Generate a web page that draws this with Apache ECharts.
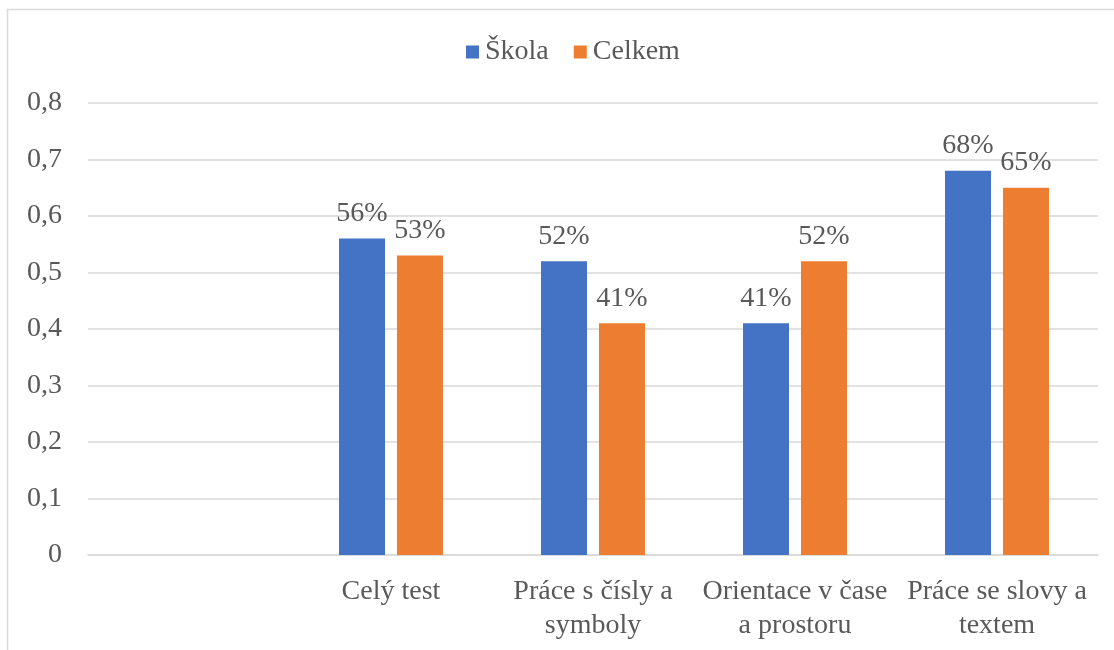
<!DOCTYPE html>
<html>
<head>
<meta charset="utf-8">
<script src="https://cdn.jsdelivr.net/npm/echarts@6/dist/echarts.min.js"></script>
<style>
  html, body { margin: 0; padding: 0; background: #fff; }
  #chart { width: 1114px; height: 650px; }
</style>
</head>
<body>
<div id="chart"></div>
<script>
const categories = ['', 'Celý test', 'Práce s čísly a\nsymboly', 'Orientace v čase\na prostoru', 'Práce se slovy a\ntextem'];
const skola = [null, 0.56, 0.52, 0.41, 0.68];
const celkem = [null, 0.53, 0.41, 0.52, 0.65];
const seriesNames = ['Škola', 'Celkem'];

const chart = echarts.init(document.getElementById('chart'));
const font = '"Liberation Serif", "Times New Roman", serif';
const textColor = '#595959';

const pctLabel = {
  show: true,
  position: 'top',
  distance: 11,
  fontFamily: font,
  fontSize: 28,
  color: textColor,
  formatter: p => Math.round(p.value * 100) + '%'
};

chart.setOption({
  backgroundColor: '#fff',
  animation: false,
  graphic: [{
    type: 'rect',
    silent: true,
    shape: { x: 7.5, y: 9.5, width: 1200, height: 700 },
    style: { fill: 'none', stroke: '#d9d9d9', lineWidth: 1.5 }
  }],
  legend: {
    left: 461,
    top: 33,
    itemWidth: 13,
    itemHeight: 13,
    itemGap: 25,
    icon: 'rect',
    textStyle: { fontFamily: font, fontSize: 28, color: textColor, padding: [0, 0, 0, 1] },
    data: seriesNames
  },
  grid: { left: 88, right: 16, top: 103, bottom: 95 },
  xAxis: {
    type: 'category',
    data: categories,
    axisTick: { show: false },
    axisLine: { lineStyle: { color: '#d9d9d9', width: 1.5 } },
    axisLabel: {
      interval: 0,
      margin: 20,
      fontFamily: font,
      fontSize: 28,
      lineHeight: 34,
      color: textColor
    }
  },
  yAxis: {
    type: 'value',
    min: 0,
    max: 0.8,
    interval: 0.1,
    axisLine: { show: false },
    axisTick: { show: false },
    splitLine: { lineStyle: { color: '#d9d9d9', width: 1.5 } },
    axisLabel: {
      margin: 26,
      fontFamily: font,
      fontSize: 28,
      color: textColor,
      formatter: v => (Math.round(v * 10) / 10).toString().replace('.', ',')
    }
  },
  series: [
    {
      name: seriesNames[0],
      type: 'bar',
      data: skola,
      barWidth: 46,
      barGap: '26%',
      itemStyle: { color: '#4472C4' },
      label: pctLabel
    },
    {
      name: seriesNames[1],
      type: 'bar',
      data: celkem,
      barWidth: 46,
      itemStyle: { color: '#ED7D31' },
      label: pctLabel
    }
  ]
});
</script>
</body>
</html>
